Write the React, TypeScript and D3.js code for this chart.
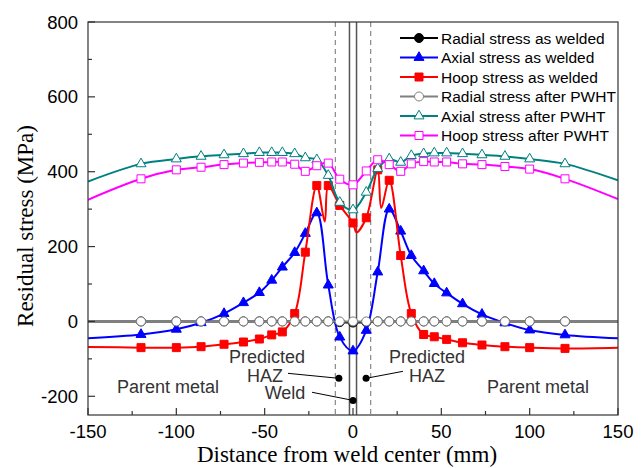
import React from "react";
import * as d3 from "d3";

// ---------- data ----------
const X_NODES = [-150, -120, -100, -86, -73, -62, -53, -46, -40, -33, -27, -20.5, -14, -7.5, 0, 7.5, 14, 20.5, 27, 33, 40, 46, 53, 62, 73, 86, 100, 120, 150];

const RADIAL_WELDED = [0, 0, 0, 0, 0, 0, 0, 0, 0, 0, 0, 0, 0, -2, -3, -2, 0, 0, 0, 0, 0, 0, 0, 0, 0, 0, 0, 0, 0];
const AXIAL_WELDED = [-45, -35, -21, -3.5, 21, 50, 77, 110, 145, 184, 235, 290, 97, -42, -79, -24, 132, 300, 241, 176, 135, 101, 76, 47, 19, -4, -23, -36, -45];
const HOOP_WELDED = [-68, -70, -70, -67.5, -61, -55, -47, -36, -28, 21, 185, 363, 363, 310, 263, 277, 405, 377, 176, 21, -35, -41, -48, -57, -63, -67.5, -70, -72, -70];
const HOOP_WELDED_EXTRA_X = [-16, 2, 16];
const HOOP_WELDED_EXTRA_Y = [267, 238, 303];
const RADIAL_PWHT = [0, 0, 0, 0, 0, 0, 0, 0, 0, 0, 0, 0, 0, 0, 0, 0, 0, 0, 0, 0, 0, 0, 0, 0, 0, 0, 0, 0, 0];
const AXIAL_PWHT = [374, 421, 434, 441, 445, 448, 451, 451, 451, 448, 437, 432, 390, 318, 298, 345, 408, 434, 425, 443, 448, 450, 450, 448, 445, 441, 434, 421, 377];
const HOOP_PWHT = [325, 381, 405, 412, 419, 423, 425, 426, 426, 420, 401, 416, 423, 380, 365, 402, 432, 419, 401, 421, 427, 426, 426, 421, 419, 414, 407, 381, 327];

const SERIES_NAMES = [
  "Radial stress as welded",
  "Axial stress as welded",
  "Hoop stress as welded",
  "Radial stress after PWHT",
  "Axial stress after PWHT",
  "Hoop stress after PWHT",
];

const X_TICKS = [-150, -100, -50, 0, 50, 100, 150];
const X_MINOR = [-125, -75, -25, 25, 75, 125];
const Y_TICKS = [-200, 0, 200, 400, 600, 800];
const Y_MINOR = [-100, 100, 300, 500, 700];

const DASHED_X = [-10, 10];
const SOLID_X = [-2, 2];

const DOT_X = [-8, 0, 7.4];
const DOT_Y = [-152, -211, -152];
const LEADER_X = [-36.8, -23.2, 28.3];
const LEADER_Y = [-138.7, -189.3, -133.3];

const LABELS = ["Predicted", "HAZ", "Weld", "Predicted", "HAZ", "Parent metal", "Parent metal"];
const LABEL_X = [-48.7, -49.8, -38.5, 41.9, 41.9, -104.7, 104.7];
const LABEL_Y = [-112, -163, -207, -112, -163, -192, -192];

// ---------- layout / style ----------
const W = 644, H = 468;
const L = 88, R = 618, T = 22, B = 415;

type Marker = "circle" | "triangle" | "square";
const STYLES: { color: string; marker: Marker; filled: boolean; width: number }[] = [
  { color: "#000000", marker: "circle", filled: true, width: 2 },
  { color: "#0000ff", marker: "triangle", filled: true, width: 2 },
  { color: "#ff0000", marker: "square", filled: true, width: 2 },
  { color: "#808080", marker: "circle", filled: false, width: 2 },
  { color: "#008080", marker: "triangle", filled: false, width: 2 },
  { color: "#ff00ff", marker: "square", filled: false, width: 2 },
];

function markerPath(m: Marker, cx: number, cy: number): string {
  if (m === "circle") {
    const r = 4.5;
    return `M${cx - r},${cy}a${r},${r} 0 1,0 ${2 * r},0a${r},${r} 0 1,0 ${-2 * r},0Z`;
  }
  if (m === "triangle") {
    const s = 10;
    const h = s * 0.866;
    return `M${cx},${cy - (2 * h) / 3}L${cx + s / 2},${cy + h / 3}L${cx - s / 2},${cy + h / 3}Z`;
  }
  const a = 4;
  return `M${cx - a},${cy - a}h${2 * a}v${2 * a}h${-2 * a}Z`;
}

export default function App() {
  const x = d3.scaleLinear().domain([-150, 150]).range([L, R]);
  const y = d3.scaleLinear().domain([-250, 800]).range([B, T]);

  const seriesValues = [RADIAL_WELDED, AXIAL_WELDED, HOOP_WELDED, RADIAL_PWHT, AXIAL_PWHT, HOOP_PWHT];

  const linePts = seriesValues.map((vals, si) => {
    const pts: [number, number][] = X_NODES.map((xv, i) => [xv, vals[i]]);
    if (si === 2) {
      HOOP_WELDED_EXTRA_X.forEach((xv, i) => pts.push([xv, HOOP_WELDED_EXTRA_Y[i]]));
      pts.sort((a, b) => a[0] - b[0]);
    }
    return pts;
  });

  const line = d3
    .line<[number, number]>()
    .x((d) => x(d[0]))
    .y((d) => y(d[1]))
    .curve(d3.curveCatmullRom.alpha(0.5));

  const tickFont = "'Liberation Sans', Arial, sans-serif";
  const serif = "'Liberation Serif', 'Times New Roman', serif";

  const legendX0 = 400, legendX1 = 438, legendY0 = 38, legendDy = 19.5;

  return (
    <svg width={W} height={H} style={{ position: "absolute", left: 0, top: 0, background: "#fff" }}>
      <rect x={0} y={0} width={W} height={H} fill="#fff" />
      <defs>
        <clipPath id="plot">
          <rect x={L} y={T} width={R - L} height={B - T} />
        </clipPath>
      </defs>

      {/* vertical reference lines */}
      {DASHED_X.map((v, i) => (
        <line key={"d" + i} x1={x(v)} x2={x(v)} y1={T} y2={B} stroke="#888" strokeWidth={1.2} strokeDasharray="5,4" />
      ))}
      {SOLID_X.map((v, i) => (
        <line key={"s" + i} x1={x(v)} x2={x(v)} y1={T} y2={B} stroke="#555" strokeWidth={1.5} />
      ))}

      {/* series */}
      <g clipPath="url(#plot)">
        {linePts.map((pts, si) => (
          <g key={"ser" + si}>
            <path d={line(pts) || ""} fill="none" stroke={STYLES[si].color} strokeWidth={STYLES[si].width} />
            {X_NODES.map((xv, i) =>
              i === 0 || i === X_NODES.length - 1 ? null : (
                <path
                  key={i}
                  d={markerPath(STYLES[si].marker, x(xv), y(seriesValues[si][i]))}
                  fill={STYLES[si].filled ? STYLES[si].color : "#fff"}
                  stroke={STYLES[si].color}
                  strokeWidth={1}
                />
              )
            )}
          </g>
        ))}
      </g>

      {/* annotations */}
      {DOT_X.map((v, i) => (
        <g key={"an" + i}>
          <line x1={x(LEADER_X[i])} y1={y(LEADER_Y[i])} x2={x(v)} y2={y(DOT_Y[i])} stroke="#000" strokeWidth={1} />
          <circle cx={x(v)} cy={y(DOT_Y[i])} r={3.5} fill="#000" />
        </g>
      ))}
      {LABELS.map((t, i) => (
        <text key={"lb" + i} x={x(LABEL_X[i])} y={y(LABEL_Y[i])} textAnchor="middle" fontFamily={tickFont} fontSize={18} fill="#333">
          {t}
        </text>
      ))}

      {/* frame */}
      <rect x={L} y={T} width={R - L} height={B - T} fill="none" stroke="#333" strokeWidth={1.2} />

      {/* x ticks */}
      {X_TICKS.map((v) => (
        <g key={"xt" + v}>
          <line x1={x(v)} x2={x(v)} y1={B} y2={B - 7} stroke="#333" strokeWidth={1.2} />
          <text x={x(v)} y={438} textAnchor="middle" fontFamily={tickFont} fontSize={18.5} fill="#000">
            {v}
          </text>
        </g>
      ))}
      {X_MINOR.map((v) => (
        <line key={"xm" + v} x1={x(v)} x2={x(v)} y1={B} y2={B - 4} stroke="#333" strokeWidth={1.2} />
      ))}

      {/* y ticks */}
      {Y_TICKS.map((v) => (
        <g key={"yt" + v}>
          <line x1={L} x2={L + 7} y1={y(v)} y2={y(v)} stroke="#333" strokeWidth={1.2} />
          <text x={78} y={y(v) + 6.5} textAnchor="end" fontFamily={tickFont} fontSize={18.5} fill="#000">
            {v}
          </text>
        </g>
      ))}
      {Y_MINOR.map((v) => (
        <line key={"ym" + v} x1={L} x2={L + 4} y1={y(v)} y2={y(v)} stroke="#333" strokeWidth={1.2} />
      ))}

      {/* axis titles */}
      <text x={(L + R) / 2 - 6} y={462} textAnchor="middle" fontFamily={serif} fontSize={23} fill="#000">
        Distance from weld center (mm)
      </text>
      <text
        transform={`translate(33,${226}) rotate(-90)`}
        textAnchor="middle"
        fontFamily={serif}
        fontSize={23}
        fill="#000"
      >
        Residual stress (MPa)
      </text>

      {/* legend */}
      {SERIES_NAMES.map((name, i) => {
        const ly = legendY0 + i * legendDy;
        const st = STYLES[i];
        return (
          <g key={"lg" + i}>
            <line x1={legendX0} x2={legendX1} y1={ly} y2={ly} stroke={st.color} strokeWidth={2} />
            <path
              d={markerPath(st.marker, (legendX0 + legendX1) / 2, ly)}
              fill={st.filled ? st.color : "#fff"}
              stroke={st.color}
              strokeWidth={1}
            />
            <text x={441} y={ly + 5.5} fontFamily={tickFont} fontSize={15.5} fill="#000">
              {name}
            </text>
          </g>
        );
      })}
    </svg>
  );
}
